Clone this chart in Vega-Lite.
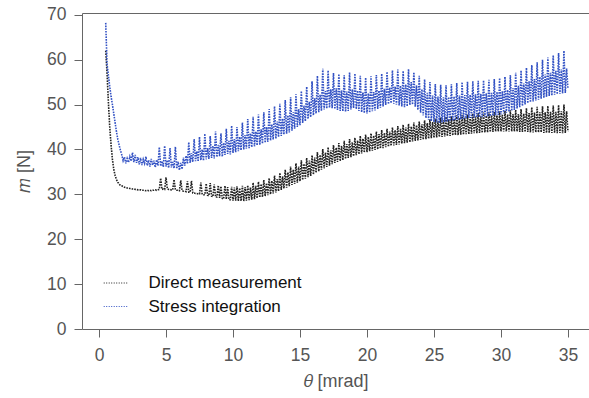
{
"$schema": "https://vega.github.io/schema/vega-lite/v6.json",
"autosize": {"type": "none"},
"padding": {"left": 82, "top": 13, "right": 0, "bottom": 69},
"width": 507,
"height": 316,
"background": "white",
"config": {
  "font": "Liberation Sans",
  "view": {"stroke": "#666666", "strokeWidth": 1},
  "axis": {"grid": false, "domain": false, "tickColor": "#666666", "tickSize": 8, "tickWidth": 1, "labelFont": "Liberation Sans", "labelFontSize": 17.5, "labelColor": "#555555", "titleFont": "Liberation Sans", "titleFontSize": 18, "titleFontWeight": "normal", "titleColor": "#555555"}
},
"data": {"values": [
{"t":0.5,"d":62.0,"s":68.2},{"t":0.6,"d":57.0,"s":59.0},{"t":0.7,"d":50.5,"s":56.5},{"t":0.8,"d":45.0,"s":54.0},{"t":0.9,"d":41.0,"s":51.8},
{"t":1.0,"d":37.8,"s":50.0},{"t":1.1,"d":35.6,"s":48.0},{"t":1.2,"d":34.2,"s":46.0},{"t":1.3,"d":33.3,"s":44.0},{"t":1.4,"d":32.7,"s":42.3},
{"t":1.5,"d":32.3,"s":41.0},{"t":1.6,"d":32.0,"s":39.8},{"t":1.7,"d":31.9,"s":38.8},{"t":1.8,"d":31.7,"s":37.5},{"t":1.9,"d":31.6,"s":38.3},
{"t":2.0,"d":31.5,"s":36.9},{"t":2.1,"d":31.4,"s":38.0},{"t":2.2,"d":31.4,"s":37.1},{"t":2.3,"d":31.3,"s":38.4},{"t":2.4,"d":31.3,"s":37.4},
{"t":2.5,"d":31.2,"s":39.3},{"t":2.6,"d":31.2,"s":37.2},{"t":2.7,"d":31.1,"s":38.8},{"t":2.8,"d":31.1,"s":37.0},{"t":2.9,"d":31.0,"s":38.3},
{"t":3.0,"d":31.0,"s":36.7},{"t":3.1,"d":31.0,"s":38.1},{"t":3.2,"d":30.9,"s":36.5},{"t":3.3,"d":30.9,"s":37.8},{"t":3.4,"d":30.9,"s":36.9},
{"t":3.5,"d":30.8,"s":38.4},{"t":3.6,"d":30.9,"s":36.4},{"t":3.7,"d":30.8,"s":37.6},{"t":3.8,"d":30.9,"s":36.2},{"t":3.9,"d":30.8,"s":37.9},
{"t":4.0,"d":30.9,"s":36.5},{"t":4.1,"d":30.9,"s":37.5},{"t":4.2,"d":31.0,"s":36.0},{"t":4.3,"d":30.9,"s":37.7},{"t":4.4,"d":31.0,"s":36.4},
{"t":4.5,"d":31.1,"s":40.5},{"t":4.6,"d":33.6,"s":36.3},{"t":4.7,"d":31.1,"s":37.4},{"t":4.8,"d":31.2,"s":36.1},{"t":4.9,"d":31.1,"s":40.8},
{"t":5.0,"d":33.8,"s":36.2},{"t":5.1,"d":31.2,"s":37.6},{"t":5.2,"d":31.1,"s":35.9},{"t":5.3,"d":31.1,"s":40.3},{"t":5.4,"d":31.0,"s":36.0},
{"t":5.5,"d":31.0,"s":37.2},{"t":5.6,"d":33.3,"s":35.8},{"t":5.7,"d":31.0,"s":40.6},{"t":5.8,"d":30.9,"s":35.7},{"t":5.9,"d":30.9,"s":37.3},
{"t":6.0,"d":30.8,"s":35.4},{"t":6.1,"d":33.1,"s":37.0},{"t":6.2,"d":30.8,"s":35.6},{"t":6.3,"d":30.7,"s":38.2},{"t":6.4,"d":30.7,"s":36.4},
{"t":6.5,"d":30.6,"s":38.6},{"t":6.6,"d":32.9,"s":36.8},{"t":6.7,"d":30.5,"s":41.6},{"t":6.8,"d":30.5,"s":37.0},{"t":6.9,"d":33.0,"s":39.2},
{"t":7.0,"d":30.3,"s":37.2},{"t":7.1,"d":30.3,"s":42.3},{"t":7.2,"d":30.2,"s":37.4},{"t":7.3,"d":30.2,"s":39.6},{"t":7.4,"d":30.1,"s":37.3},
{"t":7.5,"d":30.1,"s":42.8},{"t":7.6,"d":32.6,"s":37.6},{"t":7.7,"d":30.0,"s":40.0},{"t":7.8,"d":29.9,"s":37.5},{"t":7.9,"d":29.9,"s":43.5},
{"t":8.0,"d":32.4,"s":37.8},{"t":8.1,"d":29.8,"s":40.3},{"t":8.2,"d":29.7,"s":37.9},{"t":8.3,"d":32.5,"s":43.0},{"t":8.4,"d":29.6,"s":38.1},
{"t":8.5,"d":29.5,"s":40.8},{"t":8.6,"d":32.2,"s":38.0},{"t":8.7,"d":29.4,"s":44.0},{"t":8.8,"d":29.4,"s":38.3},{"t":8.9,"d":32.0,"s":41.0},
{"t":9.0,"d":29.2,"s":38.5},{"t":9.1,"d":31.8,"s":43.6},{"t":9.2,"d":29.1,"s":38.4},{"t":9.3,"d":29.0,"s":41.5},{"t":9.4,"d":31.9,"s":38.8},
{"t":9.5,"d":28.9,"s":44.6},{"t":9.6,"d":31.6,"s":39.0},{"t":9.7,"d":28.8,"s":41.9},{"t":9.8,"d":28.8,"s":38.9},{"t":9.9,"d":31.7,"s":45.3},
{"t":10.0,"d":28.6,"s":39.2},{"t":10.1,"d":31.5,"s":42.3},{"t":10.2,"d":28.6,"s":39.4},{"t":10.3,"d":31.8,"s":45.0},{"t":10.4,"d":28.5,"s":39.6},
{"t":10.5,"d":31.4,"s":42.8},{"t":10.6,"d":28.5,"s":39.8},{"t":10.7,"d":31.9,"s":46.0},{"t":10.8,"d":28.5,"s":40.0},{"t":10.9,"d":31.6,"s":43.2},
{"t":11.0,"d":28.6,"s":40.2},{"t":11.1,"d":32.0,"s":46.8},{"t":11.2,"d":28.7,"s":40.3},{"t":11.3,"d":31.5,"s":43.6},{"t":11.4,"d":28.8,"s":40.5},
{"t":11.5,"d":32.6,"s":47.3},{"t":11.6,"d":28.9,"s":40.7},{"t":11.7,"d":31.9,"s":44.0},{"t":11.8,"d":29.1,"s":40.9},{"t":11.9,"d":32.8,"s":47.8},
{"t":12.0,"d":29.3,"s":41.0},{"t":12.1,"d":32.3,"s":44.5},{"t":12.2,"d":29.4,"s":41.3},{"t":12.3,"d":33.2,"s":48.3},{"t":12.4,"d":29.6,"s":41.5},
{"t":12.5,"d":32.5,"s":45.0},{"t":12.6,"d":29.8,"s":41.7},{"t":12.7,"d":33.6,"s":49.0},{"t":12.8,"d":30.0,"s":42.0},{"t":12.9,"d":33.0,"s":45.6},
{"t":13.0,"d":30.2,"s":42.2},{"t":13.1,"d":34.2,"s":49.6},{"t":13.2,"d":30.4,"s":42.4},{"t":13.3,"d":33.4,"s":46.2},{"t":13.4,"d":30.7,"s":42.8},
{"t":13.5,"d":34.8,"s":50.2},{"t":13.6,"d":31.0,"s":43.0},{"t":13.7,"d":34.0,"s":46.9},{"t":13.8,"d":31.3,"s":43.3},{"t":13.9,"d":35.5,"s":51.0},
{"t":14.0,"d":31.5,"s":43.5},{"t":14.1,"d":34.9,"s":47.6},{"t":14.2,"d":31.8,"s":43.8},{"t":14.3,"d":36.2,"s":51.6},{"t":14.4,"d":32.1,"s":44.2},
{"t":14.5,"d":35.5,"s":48.3},{"t":14.6,"d":32.3,"s":44.6},{"t":14.7,"d":36.9,"s":52.3},{"t":14.8,"d":32.6,"s":45.0},{"t":14.9,"d":36.2,"s":49.0},
{"t":15.0,"d":32.9,"s":45.4},{"t":15.1,"d":37.6,"s":53.0},{"t":15.2,"d":33.2,"s":45.9},{"t":15.3,"d":36.8,"s":49.8},{"t":15.4,"d":33.5,"s":46.3},
{"t":15.5,"d":38.1,"s":54.0},{"t":15.6,"d":33.8,"s":46.8},{"t":15.7,"d":37.5,"s":50.6},{"t":15.8,"d":34.1,"s":47.2},{"t":15.9,"d":38.7,"s":55.2},
{"t":16.0,"d":34.4,"s":47.6},{"t":16.1,"d":38.2,"s":51.4},{"t":16.2,"d":34.8,"s":48.0},{"t":16.3,"d":39.4,"s":56.4},{"t":16.4,"d":35.1,"s":48.3},
{"t":16.5,"d":38.8,"s":52.2},{"t":16.6,"d":35.5,"s":48.6},{"t":16.7,"d":40.1,"s":58.0},{"t":16.8,"d":35.8,"s":48.9},{"t":16.9,"d":39.3,"s":53.0},
{"t":17.0,"d":36.1,"s":49.1},{"t":17.1,"d":40.5,"s":57.6},{"t":17.2,"d":36.4,"s":49.3},{"t":17.3,"d":39.8,"s":53.4},{"t":17.4,"d":36.7,"s":49.2},
{"t":17.5,"d":41.0,"s":57.0},{"t":17.6,"d":37.0,"s":49.0},{"t":17.7,"d":40.4,"s":53.6},{"t":17.8,"d":37.2,"s":48.8},{"t":17.9,"d":41.4,"s":56.8},
{"t":18.0,"d":37.4,"s":48.6},{"t":18.1,"d":40.8,"s":53.2},{"t":18.2,"d":37.6,"s":48.5},{"t":18.3,"d":41.9,"s":56.5},{"t":18.4,"d":37.9,"s":48.4},
{"t":18.5,"d":41.2,"s":52.9},{"t":18.6,"d":38.1,"s":48.6},{"t":18.7,"d":42.3,"s":57.2},{"t":18.8,"d":38.3,"s":48.9},{"t":18.9,"d":41.6,"s":53.4},
{"t":19.0,"d":38.5,"s":49.2},{"t":19.1,"d":42.6,"s":56.9},{"t":19.2,"d":38.7,"s":49.0},{"t":19.3,"d":42.0,"s":53.1},{"t":19.4,"d":38.9,"s":48.6},
{"t":19.5,"d":43.0,"s":56.4},{"t":19.6,"d":39.1,"s":48.3},{"t":19.7,"d":42.4,"s":52.7},{"t":19.8,"d":39.3,"s":48.1},{"t":19.9,"d":43.3,"s":56.0},
{"t":20.0,"d":39.4,"s":48.0},{"t":20.1,"d":42.8,"s":52.5},{"t":20.2,"d":39.6,"s":48.2},{"t":20.3,"d":43.6,"s":56.3},{"t":20.4,"d":39.7,"s":48.5},
{"t":20.5,"d":43.1,"s":52.8},{"t":20.6,"d":39.9,"s":48.7},{"t":20.7,"d":44.0,"s":56.6},{"t":20.8,"d":40.0,"s":49.0},{"t":20.9,"d":43.4,"s":53.1},
{"t":21.0,"d":40.2,"s":49.3},{"t":21.1,"d":44.3,"s":56.9},{"t":21.2,"d":40.3,"s":49.6},{"t":21.3,"d":43.7,"s":53.5},{"t":21.4,"d":40.5,"s":49.9},
{"t":21.5,"d":44.6,"s":57.3},{"t":21.6,"d":40.6,"s":50.1},{"t":21.7,"d":44.0,"s":53.8},{"t":21.8,"d":40.8,"s":50.3},{"t":21.9,"d":44.9,"s":57.6},
{"t":22.0,"d":40.9,"s":50.2},{"t":22.1,"d":44.3,"s":54.0},{"t":22.2,"d":41.0,"s":50.0},{"t":22.3,"d":45.2,"s":57.8},{"t":22.4,"d":41.1,"s":49.8},
{"t":22.5,"d":44.6,"s":54.2},{"t":22.6,"d":41.3,"s":49.6},{"t":22.7,"d":45.5,"s":57.5},{"t":22.8,"d":41.4,"s":49.4},{"t":22.9,"d":44.9,"s":54.5},
{"t":23.0,"d":41.5,"s":49.6},{"t":23.1,"d":45.7,"s":57.9},{"t":23.2,"d":41.6,"s":49.9},{"t":23.3,"d":45.1,"s":55.0},{"t":23.4,"d":41.8,"s":50.0},
{"t":23.5,"d":46.0,"s":57.2},{"t":23.6,"d":41.9,"s":49.5},{"t":23.7,"d":45.4,"s":54.3},{"t":23.8,"d":42.0,"s":48.8},{"t":23.9,"d":46.2,"s":56.4},
{"t":24.0,"d":42.1,"s":48.2},{"t":24.1,"d":45.6,"s":53.4},{"t":24.2,"d":42.2,"s":47.6},{"t":24.3,"d":46.5,"s":55.6},{"t":24.4,"d":42.3,"s":47.0},
{"t":24.5,"d":45.9,"s":52.6},{"t":24.6,"d":42.4,"s":46.6},{"t":24.7,"d":46.7,"s":55.0},{"t":24.8,"d":42.5,"s":46.3},{"t":24.9,"d":46.1,"s":52.0},
{"t":25.0,"d":42.6,"s":46.1},{"t":25.1,"d":46.9,"s":54.6},{"t":25.2,"d":42.7,"s":46.0},{"t":25.3,"d":46.3,"s":51.8},{"t":25.4,"d":42.8,"s":45.9},
{"t":25.5,"d":47.1,"s":54.4},{"t":25.6,"d":42.8,"s":46.0},{"t":25.7,"d":46.5,"s":51.6},{"t":25.8,"d":42.9,"s":46.1},{"t":25.9,"d":47.3,"s":54.3},
{"t":26.0,"d":43.0,"s":46.2},{"t":26.1,"d":46.7,"s":51.7},{"t":26.2,"d":43.0,"s":46.3},{"t":26.3,"d":47.4,"s":54.5},{"t":26.4,"d":43.1,"s":46.4},
{"t":26.5,"d":46.8,"s":51.8},{"t":26.6,"d":43.2,"s":46.5},{"t":26.7,"d":47.6,"s":54.8},{"t":26.8,"d":43.2,"s":46.6},{"t":26.9,"d":47.0,"s":52.0},
{"t":27.0,"d":43.3,"s":46.7},{"t":27.1,"d":47.7,"s":55.0},{"t":27.2,"d":43.3,"s":46.8},{"t":27.3,"d":47.1,"s":52.1},{"t":27.4,"d":43.4,"s":46.9},
{"t":27.5,"d":47.8,"s":55.1},{"t":27.6,"d":43.4,"s":47.0},{"t":27.7,"d":47.2,"s":52.2},{"t":27.8,"d":43.5,"s":47.0},{"t":27.9,"d":48.0,"s":55.2},
{"t":28.0,"d":43.6,"s":47.1},{"t":28.1,"d":47.3,"s":52.3},{"t":28.2,"d":43.6,"s":47.1},{"t":28.3,"d":48.1,"s":55.3},{"t":28.4,"d":43.7,"s":47.2},
{"t":28.5,"d":47.4,"s":52.4},{"t":28.6,"d":43.7,"s":47.2},{"t":28.7,"d":48.2,"s":55.4},{"t":28.8,"d":43.8,"s":47.3},{"t":28.9,"d":47.5,"s":52.5},
{"t":29.0,"d":43.8,"s":47.3},{"t":29.1,"d":48.3,"s":55.5},{"t":29.2,"d":43.9,"s":47.4},{"t":29.3,"d":47.6,"s":52.6},{"t":29.4,"d":43.9,"s":47.5},
{"t":29.5,"d":48.4,"s":55.7},{"t":29.6,"d":44.0,"s":47.6},{"t":29.7,"d":47.6,"s":52.8},{"t":29.8,"d":44.0,"s":47.7},{"t":29.9,"d":48.5,"s":55.9},
{"t":30.0,"d":44.0,"s":47.8},{"t":30.1,"d":47.7,"s":53.0},{"t":30.2,"d":44.0,"s":48.0},{"t":30.3,"d":48.6,"s":56.2},{"t":30.4,"d":44.0,"s":48.2},
{"t":30.5,"d":47.8,"s":53.3},{"t":30.6,"d":44.0,"s":48.4},{"t":30.7,"d":48.7,"s":56.6},{"t":30.8,"d":44.0,"s":48.6},{"t":30.9,"d":47.9,"s":53.7},
{"t":31.0,"d":44.0,"s":48.8},{"t":31.1,"d":48.8,"s":57.1},{"t":31.2,"d":44.0,"s":49.1},{"t":31.3,"d":47.9,"s":54.2},{"t":31.4,"d":43.9,"s":49.4},
{"t":31.5,"d":49.0,"s":57.6},{"t":31.6,"d":43.9,"s":49.7},{"t":31.7,"d":48.0,"s":54.7},{"t":31.8,"d":43.9,"s":50.0},{"t":31.9,"d":49.2,"s":58.2},
{"t":32.0,"d":43.9,"s":50.3},{"t":32.1,"d":48.1,"s":55.2},{"t":32.2,"d":43.8,"s":50.5},{"t":32.3,"d":49.4,"s":58.8},{"t":32.4,"d":43.8,"s":50.7},
{"t":32.5,"d":48.2,"s":55.7},{"t":32.6,"d":43.8,"s":50.9},{"t":32.7,"d":49.5,"s":59.4},{"t":32.8,"d":43.8,"s":51.1},{"t":32.9,"d":48.3,"s":56.2},
{"t":33.0,"d":43.8,"s":51.3},{"t":33.1,"d":49.6,"s":60.0},{"t":33.2,"d":43.7,"s":51.5},{"t":33.3,"d":48.3,"s":56.7},{"t":33.4,"d":43.7,"s":51.7},
{"t":33.5,"d":49.7,"s":60.5},{"t":33.6,"d":43.7,"s":51.9},{"t":33.7,"d":48.4,"s":57.1},{"t":33.8,"d":43.7,"s":52.0},{"t":33.9,"d":49.8,"s":61.0},
{"t":34.0,"d":43.7,"s":52.2},{"t":34.1,"d":48.4,"s":57.5},{"t":34.2,"d":43.6,"s":52.3},{"t":34.3,"d":49.9,"s":61.5},{"t":34.4,"d":43.7,"s":52.4},
{"t":34.5,"d":48.5,"s":57.8},{"t":34.6,"d":43.6,"s":52.5},{"t":34.7,"d":50.0,"s":62.0},{"t":34.8,"d":43.7,"s":52.6},{"t":34.9,"d":48.5,"s":58.0},
{"t":35.0,"d":44.0,"s":53.5}
]},
"transform": [{"fold": ["d", "s"], "as": ["series", "m"]}],
"mark": {"type": "line", "strokeWidth": 1.6, "strokeDash": [1.6, 1.1], "clip": true},
"encoding": {
  "x": {"field": "t", "type": "quantitative", "scale": {"domain": [-1.27, 36.57], "nice": false, "zero": false}, "axis": {"values": [0, 5, 10, 15, 20, 25, 30, 35], "title": "𝜃 [mrad]", "labelPadding": 9, "titlePadding": 9}},
  "y": {"field": "m", "type": "quantitative", "scale": {"domain": [0, 70.4], "nice": false}, "axis": {"values": [0, 10, 20, 30, 40, 50, 60, 70], "title": "𝑚 [N]", "labelPadding": 8, "titlePadding": 13}},
  "color": {"field": "series", "type": "nominal", "scale": {"domain": ["d", "s"], "range": ["#222222", "#3352c4"]},
    "legend": {"title": null, "orient": "none", "legendX": 22.5, "legendY": 259, "padding": 0, "symbolType": "M-1.15,0H1.15", "symbolSize": 420, "symbolStrokeWidth": 1, "symbolDash": [1, 1.5], "rowPadding": 4.5, "labelOffset": 22, "labelFontSize": 17, "labelFont": "Liberation Sans", "labelColor": "#111111", "labelExpr": "datum.value == 'd' ? 'Direct measurement' : 'Stress integration'"}}
}
}
